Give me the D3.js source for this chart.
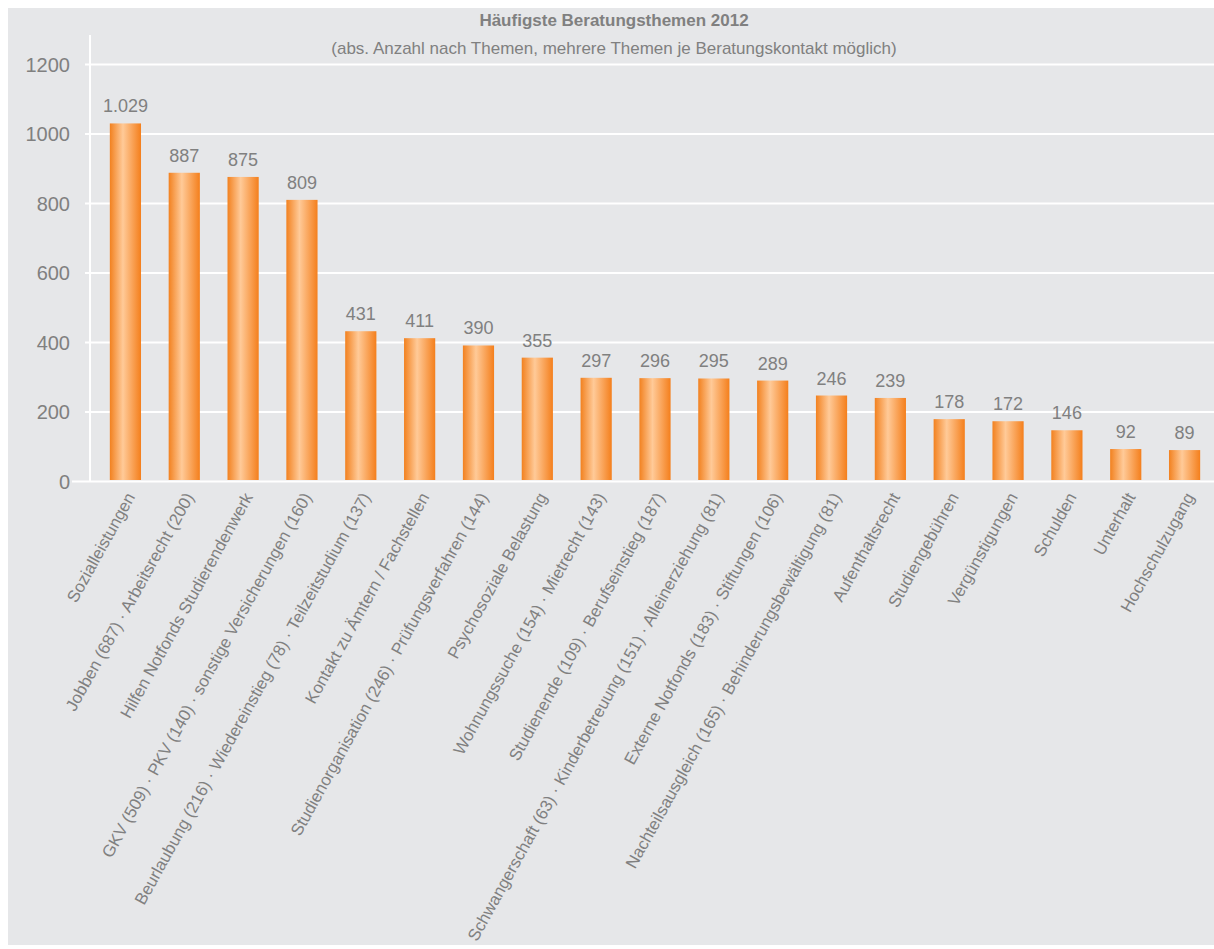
<!DOCTYPE html>
<html>
<head>
<meta charset="utf-8">
<script src="https://cdn.jsdelivr.net/npm/d3@7"></script>
<style>
  body { margin: 0; background: #fff; }
  text { font-family: "Liberation Sans", Arial, sans-serif; fill: #808080; }
</style>
</head>
<body>
<svg id="chart" width="1214" height="949"></svg>
<script>
const TITLE = "Häufigste Beratungsthemen 2012"
const SUBTITLE = "(abs. Anzahl nach Themen, mehrere Themen je Beratungskontakt möglich)"

const categories = [
  "Sozialleistungen",
  "Jobben (687) · Arbeitsrecht (200)",
  "Hilfen Notfonds Studierendenwerk",
  "GKV (509) · PKV (140) · sonstige Versicherungen (160)",
  "Beurlaubung (216) · Wiedereinstieg (78) · Teilzeitstudium (137)",
  "Kontakt zu Ämtern / Fachstellen",
  "Studienorganisation (246) · Prüfungsverfahren (144)",
  "Psychosoziale Belastung",
  "Wohnungssuche (154) · Mietrecht (143)",
  "Studienende (109) · Berufseinstieg (187)",
  "Schwangerschaft (63) · Kinderbetreuung (151) · Alleinerziehung (81)",
  "Externe Notfonds (183) · Stiftungen (106)",
  "Nachteilsausgleich (165) · Behinderungsbewältigung (81)",
  "Aufenthaltsrecht",
  "Studiengebühren",
  "Vergünstigungen",
  "Schulden",
  "Unterhalt",
  "Hochschulzugang"
]
const counts = [1029, 887, 875, 809, 431, 411, 390, 355, 297, 296, 295, 289, 246, 239, 178, 172, 146, 92, 89]
const yTicks = [0, 200, 400, 600, 800, 1000, 1200]

const LABEL_ANGLE = -61
const de = d3.formatLocale({decimal: ",", thousands: ".", grouping: [3], currency: ["", " €"]})
const fmt = de.format(",d")

const svg = d3.select("#chart")

//grey panel behind everything
svg.append("rect")
  .attr("x", 8).attr("y", 8)
  .attr("width", 1206).attr("height", 937)
  .attr("fill", "#e6e7e9")

const x = d3.scaleBand()
  .domain(categories)
  .range([96, 1214])
  .paddingInner(0.47)
  .paddingOuter(0.235)

const y = d3.scaleLinear()
  .domain([0, 1200])
  .range([481, 64])

//bar gradient: dark orange edges, pale centre
const grad = svg.append("defs").append("linearGradient")
  .attr("id", "barGrad")
  .attr("x1", "0%").attr("x2", "100%").attr("y1", "0%").attr("y2", "0%")
grad.append("stop").attr("offset", "0%").attr("stop-color", "#f2811f")
grad.append("stop").attr("offset", "42%").attr("stop-color", "#ffca98")
grad.append("stop").attr("offset", "100%").attr("stop-color", "#f47f1c")

//gridlines + y labels
const yAxis = svg.append("g")
  .attr("transform", "translate(90,0)")
  .call(d3.axisLeft(y).tickValues(yTicks).tickFormat(d3.format("d"))
    .tickSize(-1124).tickSizeOuter(0).tickPadding(20))
yAxis.select(".domain").remove()
yAxis.selectAll(".tick line")
  .attr("x1", -5)
  .attr("stroke", "#ffffff")
  .attr("stroke-width", 2)
yAxis.selectAll(".tick text")
  .attr("fill", "#808080")
  .style("font-size", "20px")
  .attr("dy", "0.36em")
yAxis.selectAll(".tick").filter(d => d === 0).select("line").attr("x1", -18)

//vertical axis line
svg.append("line")
  .attr("x1", 90).attr("x2", 90)
  .attr("y1", 35).attr("y2", y(0))
  .attr("stroke", "#ffffff").attr("stroke-width", 2)

//bars
svg.append("g").selectAll("rect")
  .data(counts)
  .join("rect")
  .attr("x", (d, i) => x(categories[i]))
  .attr("width", x.bandwidth())
  .attr("y", d => y(d))
  .attr("height", d => y(0) - y(d) - 1)
  .attr("fill", "url(#barGrad)")

//value labels
svg.append("g").selectAll("text")
  .data(counts)
  .join("text")
  .attr("x", (d, i) => x(categories[i]) + x.bandwidth() / 2)
  .attr("y", d => y(d) - 11)
  .attr("text-anchor", "middle")
  .style("font-size", "18px")
  .text(d => fmt(d))

//rotated category labels
svg.append("g").selectAll("text")
  .data(categories)
  .join("text")
  .attr("transform", d => `translate(${x(d) + x.bandwidth() / 2 + 5},494) rotate(${LABEL_ANGLE})`)
  .attr("text-anchor", "end")
  .attr("dy", "0.35em")
  .style("font-size", "16.8px")
  .text(d => d)

//titles
svg.append("text")
  .attr("x", 614).attr("y", 26)
  .attr("text-anchor", "middle")
  .style("font-size", "17px")
  .style("font-weight", "bold")
  .text(TITLE)

svg.append("text")
  .attr("x", 614).attr("y", 54)
  .attr("text-anchor", "middle")
  .style("font-size", "17px")
  .text(SUBTITLE)
</script>
</body>
</html>
